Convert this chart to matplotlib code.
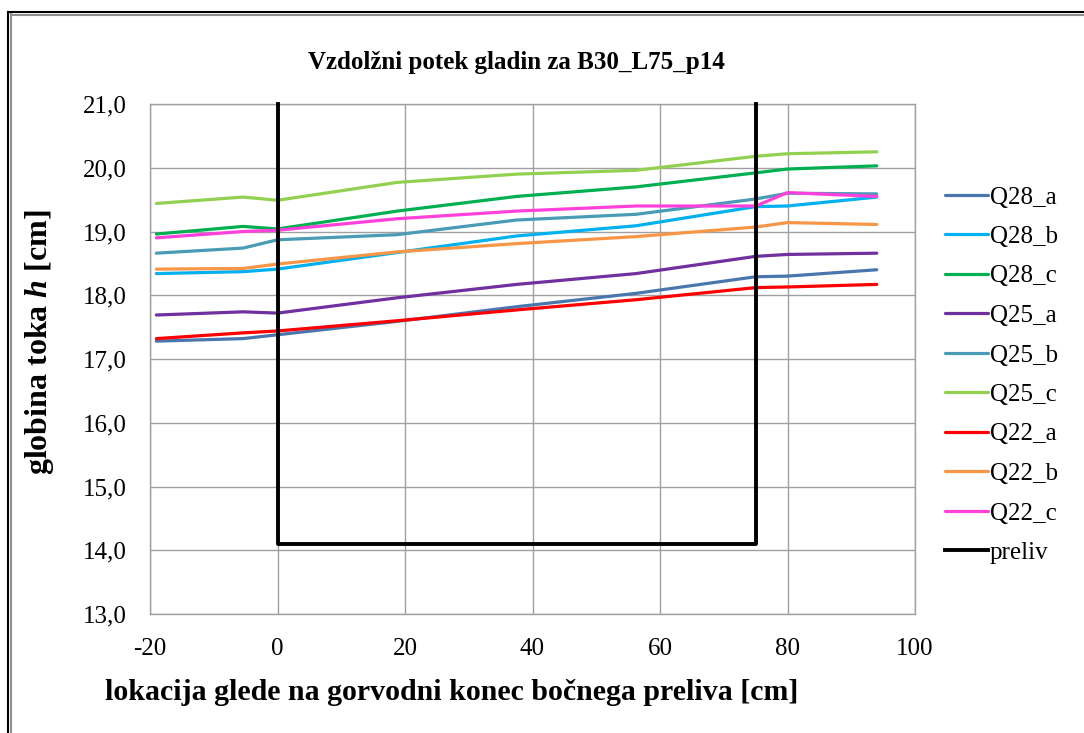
"""Vzdolzni potek gladin - B30_L75_p14."""
import matplotlib
matplotlib.use("Agg")
import matplotlib.pyplot as plt
from matplotlib.lines import Line2D
from matplotlib.ticker import FuncFormatter, MultipleLocator

plt.rcParams['font.family'] = ['Liberation Serif', 'DejaVu Serif']
plt.rcParams['mathtext.fontset'] = 'custom'
plt.rcParams['mathtext.it'] = 'Liberation Serif:italic:bold'
plt.rcParams['axes.unicode_minus'] = False

# measuring positions [cm]
x = [-19, -5.4, 0, 18.75, 37.5, 56.25, 75, 80, 94]

# water depths [cm]
series = {
    "Q28_a": [17.28, 17.32, 17.38, 17.59, 17.82, 18.03, 18.29, 18.30, 18.40],
    "Q28_b": [18.34, 18.37, 18.41, 18.67, 18.93, 19.09, 19.39, 19.40, 19.54],
    "Q28_c": [18.96, 19.08, 19.04, 19.32, 19.55, 19.70, 19.92, 19.98, 20.03],
    "Q25_a": [17.69, 17.74, 17.72, 17.96, 18.17, 18.34, 18.61, 18.64, 18.66],
    "Q25_b": [18.66, 18.74, 18.87, 18.95, 19.18, 19.27, 19.51, 19.60, 19.59],
    "Q25_c": [19.44, 19.54, 19.49, 19.77, 19.90, 19.96, 20.18, 20.22, 20.25],
    "Q22_a": [17.32, 17.41, 17.44, 17.60, 17.77, 17.93, 18.12, 18.13, 18.17],
    "Q22_b": [18.41, 18.42, 18.49, 18.68, 18.81, 18.92, 19.07, 19.14, 19.11],
    "Q22_c": [18.90, 19.00, 19.02, 19.20, 19.32, 19.40, 19.40, 19.61, 19.55],
}
colors = {
    "Q28_a": "#4A76AE", "Q28_b": "#00B0F0", "Q28_c": "#00B050",
    "Q25_a": "#7030A0", "Q25_b": "#4A9BB5", "Q25_c": "#92D050",
    "Q22_a": "#FF0000", "Q22_b": "#F79646", "Q22_c": "#FF40DC",
}

# side weir outline
preliv_x = [0, 0, 75, 75]
preliv_y = [21.0, 14.1, 14.1, 21.0]

W, H = 1084, 733
fig = plt.figure(figsize=(W / 100, H / 100), dpi=100)
ax = fig.add_axes([150 / W, 1 - 614 / H, 765 / W, 510 / H])

for name, vals in series.items():
    ax.plot(x, vals, color=colors[name], lw=2.3, solid_capstyle='round',
            label=name, zorder=3)
ax.plot(preliv_x, preliv_y, color="black", lw=2.8, label="preliv", zorder=4,
        clip_on=False)

ax.set_xlim(-20, 100)
ax.set_ylim(13, 21)
ax.xaxis.set_major_locator(MultipleLocator(20))
ax.yaxis.set_major_locator(MultipleLocator(1))
ax.yaxis.set_major_formatter(FuncFormatter(lambda v, p: f"{v:.1f}".replace(".", ",")))
ax.grid(True, color="#A0A0A0", lw=1, zorder=0)
for s in ax.spines.values():
    s.set_color("#A0A0A0")
    s.set_linewidth(1)
ax.tick_params(length=0, labelsize=18, pad=17)
ax.tick_params(axis='y', pad=16.5)

fig.text(516 / W, 1 - 62 / H, "Vzdolžni potek gladin za B30_L75_p14",
         ha="center", va="center", fontsize=18, fontweight="bold")
fig.text(452 / W, 1 - 693 / H,
         "lokacija glede na gorvodni konec bočnega preliva [cm]",
         ha="center", va="center", fontsize=21.5, fontweight="bold")
fig.text(40 / W, 1 - 342 / H, r"globina toka $\mathit{h}$ [cm]",
         ha="center", va="center", rotation=90, fontsize=23,
         fontweight="bold")

ax.legend(loc="upper left", bbox_to_anchor=(945 / W, 1 - 186 / H),
          bbox_transform=fig.transFigure, frameon=False, fontsize=18,
          borderpad=0, borderaxespad=0, handlelength=1.7,
          handletextpad=0.1, labelspacing=0.68)

# outer chart frame
fig.add_artist(Line2D([8 / W, 8 / W], [0, 1 - 12 / H], color="black", lw=1.5))
fig.add_artist(Line2D([10.5 / W, 10.5 / W], [0, 1 - 14 / H], color="#909090", lw=1.5))
fig.add_artist(Line2D([8 / W, 1], [1 - 12 / H, 1 - 12 / H], color="black", lw=1.5))
fig.add_artist(Line2D([10.5 / W, 1], [1 - 14.5 / H, 1 - 14.5 / H], color="#909090", lw=1.5))

fig.savefig("out.png", dpi=100)
